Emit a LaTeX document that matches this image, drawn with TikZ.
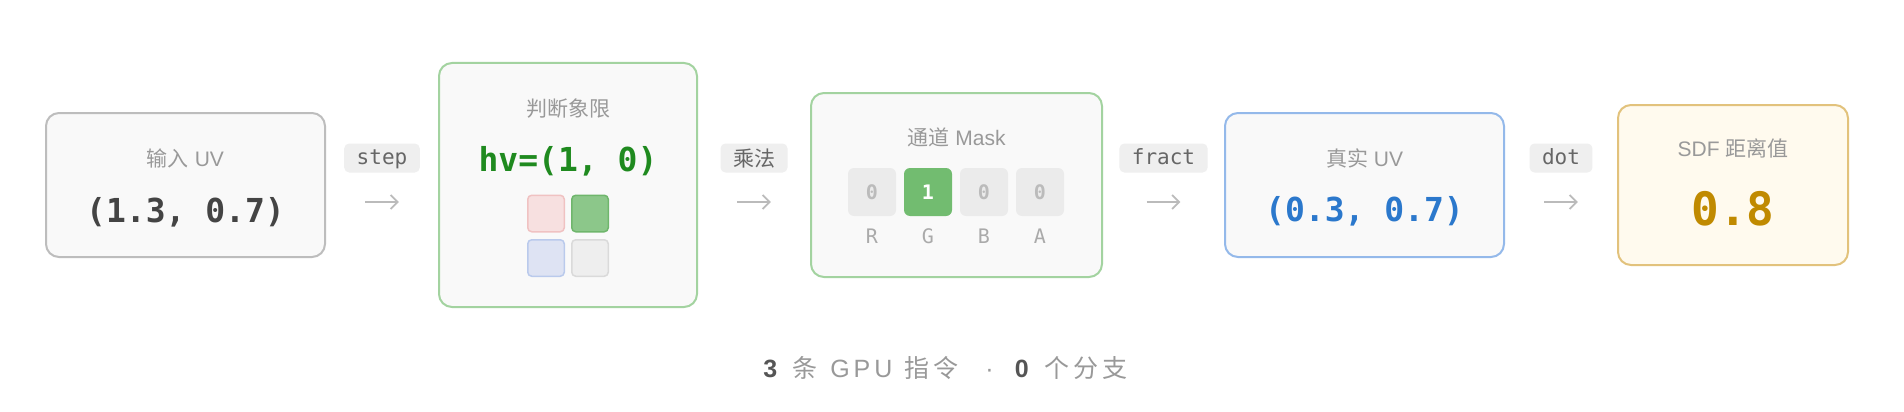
\documentclass[tikz,border=0pt]{standalone}
\usepackage{fontspec}
\setmainfont{Liberation Sans}
\newfontfamily\cjk{Noto Sans CJK SC}
\newfontfamily\mono{DejaVu Sans Mono}
\newfontfamily\cjkwide{Noto Sans CJK SC}[LetterSpace=16]
\newfontfamily\sanswide{Liberation Sans}[LetterSpace=16]
\usetikzlibrary{arrows.meta}
\definecolor{lbl}{HTML}{999999}
\definecolor{val}{HTML}{444444}
\definecolor{pillbg}{HTML}{EFEFEF}
\definecolor{pilltx}{HTML}{666666}
\definecolor{arr}{HTML}{BBBBBB}
\definecolor{boxfill}{HTML}{F9F9F9}
\definecolor{grayedge}{HTML}{BDBDBD}
\definecolor{greenedge}{HTML}{A3D3A0}
\definecolor{blueedge}{HTML}{94B9EA}
\definecolor{goldedge}{HTML}{E2C27C}
\definecolor{goldfill}{HTML}{FFFAEE}
\definecolor{hvgreen}{HTML}{1F8A1F}
\definecolor{uvblue}{HTML}{2B78CC}
\definecolor{gold}{HTML}{C08A00}
\definecolor{qrfill}{HTML}{F7E0E0}
\definecolor{qredge}{HTML}{F0C2C2}
\definecolor{qgfill}{HTML}{8CC78A}
\definecolor{qgedge}{HTML}{6FB66C}
\definecolor{qbfill}{HTML}{DEE3F3}
\definecolor{qbedge}{HTML}{BACAEC}
\definecolor{qnfill}{HTML}{EEEEEE}
\definecolor{qnedge}{HTML}{DADADA}
\definecolor{chfill}{HTML}{EBEBEB}
\definecolor{chon}{HTML}{72BC70}
\definecolor{chtext}{HTML}{BBBBBB}
\definecolor{chlbl}{HTML}{AAAAAA}
\definecolor{boldtxt}{HTML}{555555}
\begin{document}
\begin{tikzpicture}[x=1pt,y=-1pt,
  card/.style={draw, line width=2pt, rounded corners=13pt, fill=boxfill, inner sep=0pt},
  lab/.style={anchor=base, inner sep=0pt, text=lbl, font=\fontsize{21}{21}\selectfont},
  bigval/.style={anchor=base, inner sep=0pt, font=\mono\bfseries\fontsize{33}{33}\selectfont},
  pill/.style={fill=pillbg, rounded corners=5pt, text=pilltx, font=\mono\fontsize{21}{21}\selectfont,
    inner xsep=12.5pt, inner ysep=0pt, minimum height=29pt, text height=16pt, text depth=4pt},
  flow/.style={draw=arr, line width=1.7pt, -{Straight Barb[length=7pt,width=14pt]}},
  quad/.style={draw, line width=1.5pt, rounded corners=4pt, minimum size=36.5pt, inner sep=0pt},
  chan/.style={fill=chfill, rounded corners=6pt, minimum size=48pt, inner sep=0pt,
    text=chtext, font=\mono\bfseries\fontsize{20}{20}\selectfont},
  chlab/.style={anchor=base, inner sep=0pt, text=chlbl, font=\mono\fontsize{20}{20}\selectfont}]
\fill[white] (0,0) rectangle (1904,412);
\useasboundingbox (0,0) rectangle (1904,412);

% cards
\node[card, draw=grayedge, minimum width=279pt, minimum height=144pt] (b1) at (185.5,185) {};
\node[card, draw=greenedge, minimum width=258pt, minimum height=244pt] (b2) at (568,185) {};
\node[card, draw=greenedge, minimum width=291pt, minimum height=184pt] (b3) at (956.5,185) {};
\node[card, draw=blueedge, minimum width=279pt, minimum height=144pt] (b4) at (1364.5,185) {};
\node[card, draw=goldedge, fill=goldfill, minimum width=230pt, minimum height=160pt] (b5) at (1733,185) {};

% card 1
\node[lab] (b1t) at (185.5,166) {{\cjk 输入} UV};
\node[bigval, text=val] (b1v) at (185.5,222) {(1.3, 0.7)};

% card 2
\node[lab] (b2t) at (568,116) {\cjk 判断象限};
\node[bigval, text=hvgreen] (b2v) at (568,171.5) {hv=(1, 0)};
\node[quad, draw=qredge, fill=qrfill] (q1) at (546,213.5) {};
\node[quad, draw=qgedge, fill=qgfill] (q2) at (590,213.5) {};
\node[quad, draw=qbedge, fill=qbfill] (q3) at (546,258) {};
\node[quad, draw=qnedge, fill=qnfill] (q4) at (590,258) {};

% card 3
\node[lab] (b3t) at (956.5,145) {{\cjk 通道} Mask};
\node[chan] (c1) at (872,192) {0};
\node[chan, fill=chon, text=white] (c2) at (928,192) {1};
\node[chan] (c3) at (984,192) {0};
\node[chan] (c4) at (1040,192) {0};
\node[chlab] (l1) at (872,243) {R};
\node[chlab] (l2) at (928,243) {G};
\node[chlab] (l3) at (984,243) {B};
\node[chlab] (l4) at (1040,243) {A};

% card 4
\node[lab] (b4t) at (1364.5,166) {{\cjk 真实} UV};
\node[bigval, text=uvblue] (b4v) at (1364.5,221) {(0.3, 0.7)};

% card 5
\node[lab] (b5t) at (1733,156.5) {SDF {\cjk 距离值}};
\node[bigval, text=gold, font=\mono\bfseries\fontsize{46}{46}\selectfont] (b5v) at (1733,225) {0.8};

% pills
\path (b1.east) -- (b2.west) node[pill, midway, yshift=27pt] (p1) {step};
\path (b2.east) -- (b3.west) node[pill, midway, yshift=27pt, font=\cjk\fontsize{21}{21}\selectfont, text height=18pt, text depth=2pt] (p2) {乘法};
\path (b3.east) -- (b4.west) node[pill, midway, yshift=27pt] (p3) {fract};
\path (b4.east) -- (b5.west) node[pill, midway, yshift=27pt] (p4) {dot};

% arrows
\draw[flow, shorten <=39.25pt, shorten >=39.25pt] ([yshift=-17pt]b1.east) -- ([yshift=-17pt]b2.west);
\draw[flow, shorten <=39.25pt, shorten >=39.25pt] ([yshift=-17pt]b2.east) -- ([yshift=-17pt]b3.west);
\draw[flow, shorten <=43.75pt, shorten >=43.75pt] ([yshift=-17pt]b3.east) -- ([yshift=-17pt]b4.west);
\draw[flow, shorten <=39.25pt, shorten >=39.25pt] ([yshift=-17pt]b4.east) -- ([yshift=-17pt]b5.west);

% footer
\node[anchor=base, inner sep=0pt, text=lbl, font=\fontsize{25}{25}\selectfont] (foot) at (945.5,377.5)
  {{\color{boldtxt}\bfseries 3}\hspace{15pt}{\cjkwide 条}\hspace{13pt}{\sanswide GPU}\hspace{12pt}{\cjkwide 指令}\hspace{27pt}·\hspace{21pt}{\color{boldtxt}\bfseries 0}\hspace{16pt}{\cjkwide 个分支}};
\end{tikzpicture}
\end{document}
